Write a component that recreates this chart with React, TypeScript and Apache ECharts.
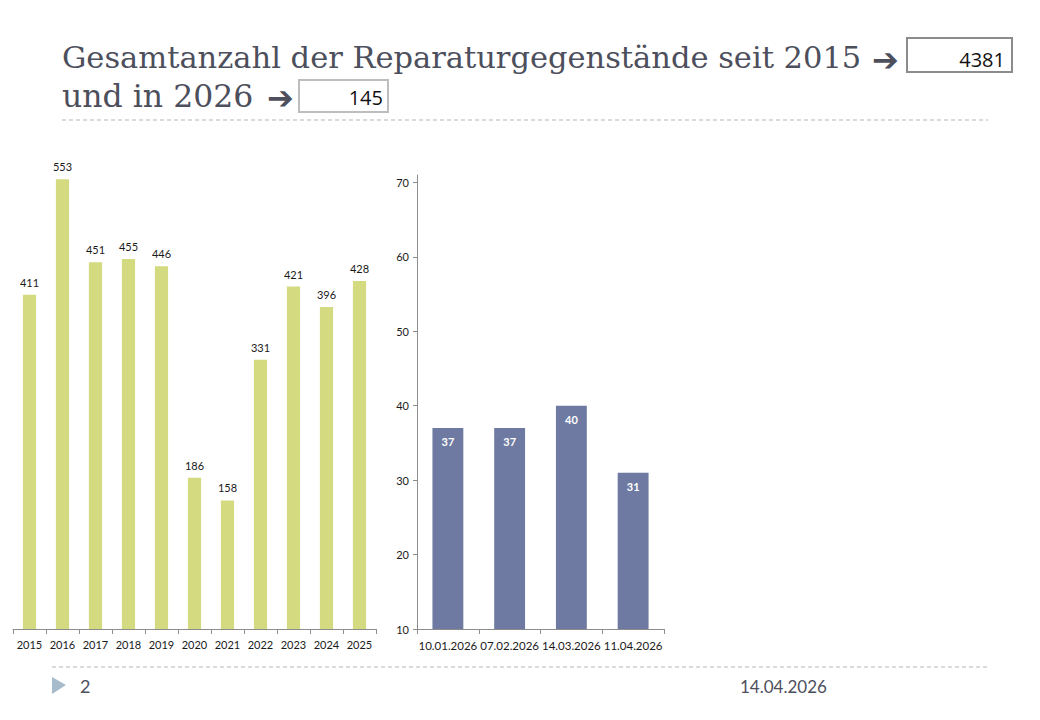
import React, { useEffect, useRef } from "react";
import * as echarts from "echarts";

const years = ["2015", "2016", "2017", "2018", "2019", "2020", "2021", "2022", "2023", "2024", "2025"];
const yearValues = [411, 553, 451, 455, 446, 186, 158, 331, 421, 396, 428];
const dates2026 = ["10.01.2026", "07.02.2026", "14.03.2026", "11.04.2026"];
const dateValues = [37, 37, 40, 31];
const rightTicks = [10, 20, 30, 40, 50, 60, 70];
const totalSince2015 = "4381";
const total2026 = "145";
const titleLine1 = "Gesamtanzahl der Reparaturgegenstände seit 2015";
const titleLine2 = "und in 2026";
const arrow = "➔";
const pageNumber = "2";
const footerDate = "14.04.2026";

const SANS = "Lato, 'Open Sans', sans-serif";
const SERIF = "'DejaVu Serif', serif";
const TITLE_COLOR = "#4d4f5c";
const AXIS_GRAY = "#8c8c8c";

export default function App() {
  const ref = useRef<HTMLDivElement>(null);
  useEffect(() => {
    document.body.style.margin = "0";
    const chart = echarts.init(ref.current!, null, { renderer: "svg" });
    const option: any = {
      animation: false,
      backgroundColor: "#ffffff",
      grid: [
        { left: 13, top: 141, width: 363, height: 488 },
        { left: 417, top: 175, width: 247, height: 454 },
      ],
      xAxis: [
        {
          type: "category",
          gridIndex: 0,
          data: years,
          axisLine: { lineStyle: { color: AXIS_GRAY, width: 1 } },
          axisTick: { show: true, length: 5, lineStyle: { color: AXIS_GRAY } },
          axisLabel: { color: "#1a1a1a", fontFamily: SANS, fontSize: 11, margin: 10, interval: 0 },
        },
        {
          type: "category",
          gridIndex: 1,
          data: dates2026,
          axisLine: { lineStyle: { color: AXIS_GRAY, width: 1 } },
          axisTick: { show: true, length: 5, lineStyle: { color: AXIS_GRAY } },
          axisLabel: { color: "#1a1a1a", fontFamily: SANS, fontSize: 11.5, margin: 10, interval: 0 },
        },
      ],
      yAxis: [
        { type: "value", gridIndex: 0, min: 0, max: 600, show: false },
        {
          type: "value",
          gridIndex: 1,
          min: 10,
          max: 71,
          interval: 10,
          splitLine: { show: false },
          axisLine: { show: true, lineStyle: { color: AXIS_GRAY, width: 1 } },
          axisTick: { show: true, length: 4, lineStyle: { color: AXIS_GRAY }, customValues: rightTicks },
          axisLabel: { color: "#1a1a1a", fontFamily: SANS, fontSize: 11, margin: 8, customValues: rightTicks },
        },
      ],
      series: [
        {
          type: "bar",
          xAxisIndex: 0,
          yAxisIndex: 0,
          data: yearValues,
          barWidth: "40%",
          itemStyle: { color: "#d3da80" },
          label: { show: true, position: "top", distance: 7, color: "#1a1a1a", fontFamily: SANS, fontSize: 11 },
        },
        {
          type: "bar",
          xAxisIndex: 1,
          yAxisIndex: 1,
          data: dateValues,
          barWidth: "50%",
          itemStyle: { color: "#6e7aa1" },
          label: {
            show: true,
            position: "insideTop",
            distance: 8,
            color: "#ffffff",
            fontWeight: "bold",
            fontFamily: SANS,
            fontSize: 11,
          },
        },
      ],
      graphic: [
        {
          type: "text",
          left: 62,
          top: 42,
          style: { text: titleLine1, font: `30.5px ${SERIF}`, fill: TITLE_COLOR },
        },
        {
          type: "text",
          x: 872,
          y: 60,
          style: { text: arrow, font: `bold 32px 'DejaVu Sans', sans-serif`, fill: TITLE_COLOR, verticalAlign: "middle" },
        },
        {
          type: "rect",
          shape: { x: 907, y: 38, width: 105, height: 34 },
          style: { fill: "#ffffff", stroke: "#8c8c8c", lineWidth: 2 },
        },
        {
          type: "text",
          x: 1005,
          y: 59,
          style: {
            text: totalSince2015,
            font: `20px 'Liberation Sans Narrow', 'Open Sans', sans-serif`,
            fill: "#111111",
            align: "right",
            verticalAlign: "middle",
          },
        },
        {
          type: "text",
          left: 62,
          top: 80,
          style: { text: titleLine2, font: `31.5px ${SERIF}`, fill: TITLE_COLOR },
        },
        {
          type: "text",
          x: 267,
          y: 98,
          style: { text: arrow, font: `bold 32px 'DejaVu Sans', sans-serif`, fill: TITLE_COLOR, verticalAlign: "middle" },
        },
        {
          type: "rect",
          shape: { x: 299, y: 80, width: 89, height: 32 },
          style: { fill: "#ffffff", stroke: "#bdbdbd", lineWidth: 2 },
        },
        {
          type: "text",
          x: 383,
          y: 97,
          style: {
            text: total2026,
            font: `20px 'Liberation Sans Narrow', 'Open Sans', sans-serif`,
            fill: "#111111",
            align: "right",
            verticalAlign: "middle",
          },
        },
        {
          type: "line",
          shape: { x1: 62, y1: 120, x2: 988, y2: 120 },
          style: { stroke: "#b5b5b5", lineWidth: 1, lineDash: [4, 3] },
        },
        {
          type: "line",
          shape: { x1: 52, y1: 667, x2: 988, y2: 667 },
          style: { stroke: "#b5b5b5", lineWidth: 1, lineDash: [4, 3] },
        },
        {
          type: "polygon",
          shape: { points: [[52, 677], [66, 685], [52, 694]] },
          style: { fill: "#a6bccd" },
        },
        {
          type: "text",
          x: 80,
          y: 686,
          style: { text: pageNumber, font: `18px ${SANS}`, fill: TITLE_COLOR, verticalAlign: "middle" },
        },
        {
          type: "text",
          x: 740,
          y: 686,
          style: { text: footerDate, font: `17px ${SANS}`, fill: TITLE_COLOR, verticalAlign: "middle" },
        },
      ],
    };
    chart.setOption(option);
    return () => chart.dispose();
  }, []);
  return <div ref={ref} style={{ width: 1040, height: 720, position: "absolute", left: 0, top: 0 }} />;
}
